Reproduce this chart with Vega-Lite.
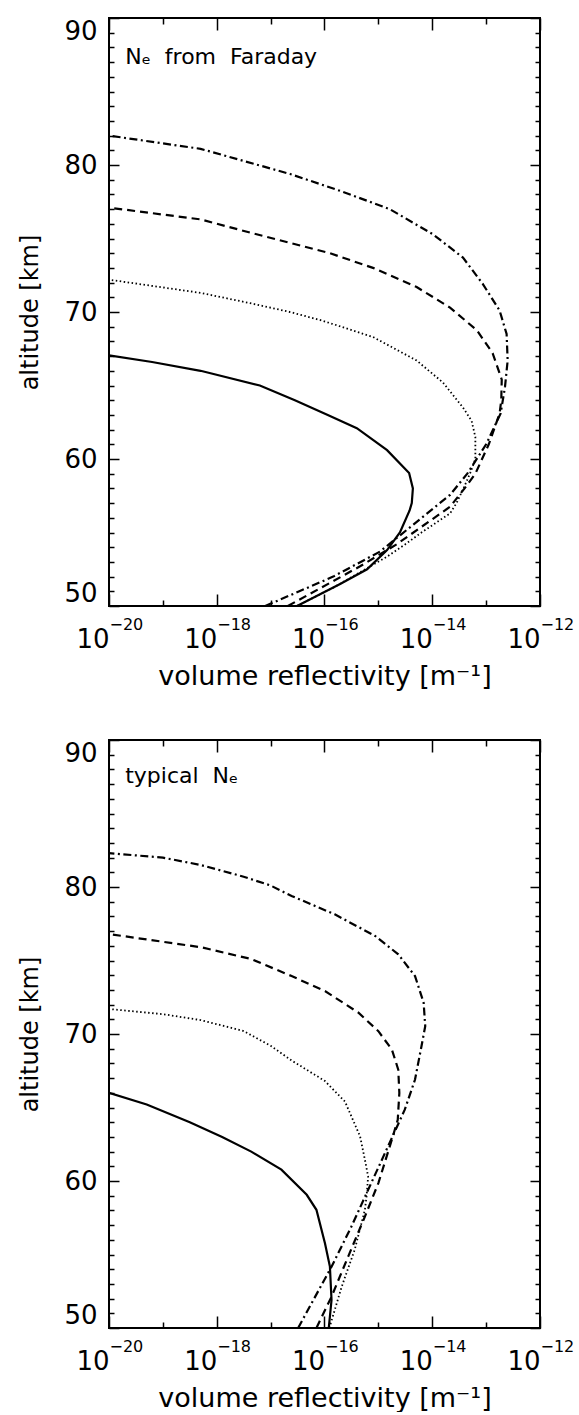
{
  "$schema": "https://vega.github.io/schema/vega-lite/v6.json",
  "padding": {"left": 17, "top": 16, "right": 5, "bottom": 0},
  "spacing": 48,
  "config": {
    "view": {"stroke": "black", "strokeWidth": 2},
    "font": "DejaVu Sans",
    "axis": {"grid": false, "domain": false, "labelColor": "black", "titleColor": "black", "tickColor": "black", "tickWidth": 1.5, "labelFont": "DejaVu Sans", "titleFont": "DejaVu Sans", "titleFontWeight": "normal", "labelFlush": false, "labelOverlap": false},
    "line": {"color": "black", "strokeCap": "butt"}
  },
  "datasets": {
    "faraday": [
      {"series": "solid", "alt": 67.05, "r": 1e-20},
      {"series": "solid", "alt": 66.6, "r": 6.31e-20},
      {"series": "solid", "alt": 66.0, "r": 5.01e-19},
      {"series": "solid", "alt": 65.0, "r": 6.31e-18},
      {"series": "solid", "alt": 64.0, "r": 2.82e-17},
      {"series": "solid", "alt": 63.0, "r": 1.15e-16},
      {"series": "solid", "alt": 62.1, "r": 3.98e-16},
      {"series": "solid", "alt": 61.3, "r": 7.94e-16},
      {"series": "solid", "alt": 60.6, "r": 1.45e-15},
      {"series": "solid", "alt": 59.05, "r": 3.72e-15},
      {"series": "solid", "alt": 58.0, "r": 4.37e-15},
      {"series": "solid", "alt": 57.0, "r": 4.17e-15},
      {"series": "solid", "alt": 56.5, "r": 3.8e-15},
      {"series": "solid", "alt": 55.0, "r": 2.51e-15},
      {"series": "solid", "alt": 53.8, "r": 1.45e-15},
      {"series": "solid", "alt": 52.5, "r": 6.17e-16},
      {"series": "solid", "alt": 51.5, "r": 1.95e-16},
      {"series": "solid", "alt": 50.0, "r": 3.09e-17},
      {"series": "dotted", "alt": 72.2, "r": 1e-20},
      {"series": "dotted", "alt": 71.3, "r": 5.01e-19},
      {"series": "dotted", "alt": 70.6, "r": 4.17e-18},
      {"series": "dotted", "alt": 70.0, "r": 2.29e-17},
      {"series": "dotted", "alt": 69.4, "r": 9.33e-17},
      {"series": "dotted", "alt": 68.3, "r": 7.94e-16},
      {"series": "dotted", "alt": 66.7, "r": 5.13e-15},
      {"series": "dotted", "alt": 65.2, "r": 1.585e-14},
      {"series": "dotted", "alt": 63.5, "r": 3.72e-14},
      {"series": "dotted", "alt": 62.6, "r": 5.37e-14},
      {"series": "dotted", "alt": 61.5, "r": 6.31e-14},
      {"series": "dotted", "alt": 60.0, "r": 6.31e-14},
      {"series": "dotted", "alt": 59.0, "r": 5.01e-14},
      {"series": "dotted", "alt": 58.0, "r": 3.8e-14},
      {"series": "dotted", "alt": 57.0, "r": 2.82e-14},
      {"series": "dotted", "alt": 56.3, "r": 2.14e-14},
      {"series": "dotted", "alt": 55.0, "r": 6.31e-15},
      {"series": "dotted", "alt": 54.2, "r": 3.16e-15},
      {"series": "dotted", "alt": 53.36, "r": 1.45e-15},
      {"series": "dotted", "alt": 51.25, "r": 1.45e-16},
      {"series": "dotted", "alt": 50.0, "r": 3.09e-17},
      {"series": "dashed", "alt": 77.1, "r": 1e-20},
      {"series": "dashed", "alt": 76.3, "r": 5.01e-19},
      {"series": "dashed", "alt": 75.4, "r": 4.17e-18},
      {"series": "dashed", "alt": 74.7, "r": 2.29e-17},
      {"series": "dashed", "alt": 74.0, "r": 1.26e-16},
      {"series": "dashed", "alt": 73.0, "r": 7.94e-16},
      {"series": "dashed", "alt": 71.7, "r": 5.13e-15},
      {"series": "dashed", "alt": 70.3, "r": 2.14e-14},
      {"series": "dashed", "alt": 68.75, "r": 6.76e-14},
      {"series": "dashed", "alt": 67.2, "r": 1.32e-13},
      {"series": "dashed", "alt": 65.4, "r": 1.95e-13},
      {"series": "dashed", "alt": 64.0, "r": 1.91e-13},
      {"series": "dashed", "alt": 63.1, "r": 1.78e-13},
      {"series": "dashed", "alt": 61.0, "r": 1.12e-13},
      {"series": "dashed", "alt": 59.0, "r": 6.31e-14},
      {"series": "dashed", "alt": 58.0, "r": 3.98e-14},
      {"series": "dashed", "alt": 56.75, "r": 2.14e-14},
      {"series": "dashed", "alt": 54.2, "r": 2.19e-15},
      {"series": "dashed", "alt": 52.7, "r": 4.57e-16},
      {"series": "dashed", "alt": 50.0, "r": 2.09e-17},
      {"series": "dash-dot", "alt": 82.0, "r": 1e-20},
      {"series": "dash-dot", "alt": 81.1, "r": 5.01e-19},
      {"series": "dash-dot", "alt": 79.39, "r": 2.29e-17},
      {"series": "dash-dot", "alt": 78.24, "r": 1.95e-16},
      {"series": "dash-dot", "alt": 77.0, "r": 1.62e-15},
      {"series": "dash-dot", "alt": 75.3, "r": 1.02e-14},
      {"series": "dash-dot", "alt": 73.7, "r": 3.72e-14},
      {"series": "dash-dot", "alt": 71.9, "r": 8.71e-14},
      {"series": "dash-dot", "alt": 70.1, "r": 1.78e-13},
      {"series": "dash-dot", "alt": 68.5, "r": 2.4e-13},
      {"series": "dash-dot", "alt": 66.7, "r": 2.51e-13},
      {"series": "dash-dot", "alt": 64.9, "r": 2.24e-13},
      {"series": "dash-dot", "alt": 63.1, "r": 1.86e-13},
      {"series": "dash-dot", "alt": 61.0, "r": 1.0e-13},
      {"series": "dash-dot", "alt": 59.0, "r": 4.47e-14},
      {"series": "dash-dot", "alt": 57.56, "r": 2.14e-14},
      {"series": "dash-dot", "alt": 53.7, "r": 1.07e-15},
      {"series": "dash-dot", "alt": 52.0, "r": 1.45e-16},
      {"series": "dash-dot", "alt": 50.0, "r": 7.94e-18}
    ],
    "typical": [
      {"series": "solid", "alt": 66.0, "r": 1e-20},
      {"series": "solid", "alt": 65.2, "r": 5.01e-20},
      {"series": "solid", "alt": 64.0, "r": 3.16e-19},
      {"series": "solid", "alt": 63.0, "r": 1.26e-18},
      {"series": "solid", "alt": 62.0, "r": 4.37e-18},
      {"series": "solid", "alt": 60.77, "r": 1.585e-17},
      {"series": "solid", "alt": 59.06, "r": 4.68e-17},
      {"series": "solid", "alt": 58.04, "r": 7.08e-17},
      {"series": "solid", "alt": 55.77, "r": 1.02e-16},
      {"series": "solid", "alt": 54.18, "r": 1.26e-16},
      {"series": "solid", "alt": 51.9, "r": 1.35e-16},
      {"series": "solid", "alt": 50.0, "r": 1.2e-16},
      {"series": "dotted", "alt": 71.7, "r": 1e-20},
      {"series": "dotted", "alt": 71.35, "r": 1e-19},
      {"series": "dotted", "alt": 70.95, "r": 5.01e-19},
      {"series": "dotted", "alt": 70.2, "r": 3.16e-18},
      {"series": "dotted", "alt": 69.2, "r": 1e-17},
      {"series": "dotted", "alt": 68.2, "r": 2.45e-17},
      {"series": "dotted", "alt": 66.8, "r": 1.02e-16},
      {"series": "dotted", "alt": 65.4, "r": 2.4e-16},
      {"series": "dotted", "alt": 63.04, "r": 4.57e-16},
      {"series": "dotted", "alt": 61.45, "r": 5.62e-16},
      {"series": "dotted", "alt": 60.31, "r": 6.46e-16},
      {"series": "dotted", "alt": 58.95, "r": 6.03e-16},
      {"series": "dotted", "alt": 58.04, "r": 5.62e-16},
      {"series": "dotted", "alt": 55.32, "r": 3.63e-16},
      {"series": "dotted", "alt": 52.82, "r": 2.09e-16},
      {"series": "dotted", "alt": 50.0, "r": 1.23e-16},
      {"series": "dashed", "alt": 76.8, "r": 1e-20},
      {"series": "dashed", "alt": 75.9, "r": 5.13e-19},
      {"series": "dashed", "alt": 75.1, "r": 4.37e-18},
      {"series": "dashed", "alt": 73.94, "r": 2.45e-17},
      {"series": "dashed", "alt": 72.92, "r": 1.02e-16},
      {"series": "dashed", "alt": 71.45, "r": 4.27e-16},
      {"series": "dashed", "alt": 70.19, "r": 1.0e-15},
      {"series": "dashed", "alt": 68.94, "r": 1.78e-15},
      {"series": "dashed", "alt": 67.58, "r": 2.34e-15},
      {"series": "dashed", "alt": 65.99, "r": 2.45e-15},
      {"series": "dashed", "alt": 64.17, "r": 2.29e-15},
      {"series": "dashed", "alt": 62.81, "r": 1.78e-15},
      {"series": "dashed", "alt": 59.86, "r": 1.0e-15},
      {"series": "dashed", "alt": 57.58, "r": 5.62e-16},
      {"series": "dashed", "alt": 54.86, "r": 2.75e-16},
      {"series": "dashed", "alt": 52.13, "r": 1.35e-16},
      {"series": "dashed", "alt": 50.0, "r": 7.08e-17},
      {"series": "dash-dot", "alt": 82.3, "r": 1e-20},
      {"series": "dash-dot", "alt": 82.0, "r": 1e-19},
      {"series": "dash-dot", "alt": 81.5, "r": 5.01e-19},
      {"series": "dash-dot", "alt": 80.7, "r": 3.16e-18},
      {"series": "dash-dot", "alt": 80.1, "r": 1e-17},
      {"series": "dash-dot", "alt": 79.39, "r": 2.45e-17},
      {"series": "dash-dot", "alt": 78.14, "r": 1.55e-16},
      {"series": "dash-dot", "alt": 76.67, "r": 8.71e-16},
      {"series": "dash-dot", "alt": 75.42, "r": 2.34e-15},
      {"series": "dash-dot", "alt": 73.94, "r": 4.79e-15},
      {"series": "dash-dot", "alt": 72.13, "r": 6.92e-15},
      {"series": "dash-dot", "alt": 70.53, "r": 7.41e-15},
      {"series": "dash-dot", "alt": 69.17, "r": 6.31e-15},
      {"series": "dash-dot", "alt": 66.9, "r": 4.79e-15},
      {"series": "dash-dot", "alt": 64.85, "r": 3.09e-15},
      {"series": "dash-dot", "alt": 62.93, "r": 1.78e-15},
      {"series": "dash-dot", "alt": 59.4, "r": 6.46e-16},
      {"series": "dash-dot", "alt": 56.9, "r": 3.16e-16},
      {"series": "dash-dot", "alt": 54.17, "r": 1.35e-16},
      {"series": "dash-dot", "alt": 51.68, "r": 5.75e-17},
      {"series": "dash-dot", "alt": 50.0, "r": 3.24e-17}
    ]
  },
  "vconcat": [
    {
      "width": 431,
      "height": 588,
      "data": {"name": "faraday"},
      "resolve": {"axis": {"x": "independent", "y": "independent"}},
      "layer": [
        {
          "transform": [{"filter": "datum.series === 'solid'"}],
          "mark": {"type": "line", "strokeWidth": 2.2, "clip": true},
          "encoding": {
            "x": {"field": "r", "type": "quantitative", "scale": {"type": "log", "domain": [1e-20, 1e-12], "nice": false},
              "axis": {"orient": "bottom", "values": [1e-20, 1e-18, 1e-16, 1e-14, 1e-12], "tickSize": -12, "labelPadding": 32, "labelFontSize": 26, "labelAlign": "right", "labelDx": -1,
                "labelExpr": "'10'", "title": "volume reflectivity [m⁻¹]", "titleFontSize": 27, "titlePadding": 11}},
            "y": {"field": "alt", "type": "quantitative", "scale": {"domain": [50, 90], "nice": false},
              "axis": {"orient": "left", "values": [50, 60, 70, 80, 90], "tickSize": -10, "labelPadding": 22, "labelFontSize": 26, "labelFlush": true,
                "title": "altitude [km]", "titleFontSize": 24, "titlePadding": 21}},
            "order": {"field": "alt", "type": "quantitative"}
          }
        },
        {
          "transform": [{"filter": "datum.series === 'dotted'"}],
          "mark": {"type": "line", "strokeWidth": 1.8, "strokeDash": [1.5, 2.5], "clip": true},
          "encoding": {
            "x": {"field": "r", "type": "quantitative", "axis": {"orient": "bottom", "values": [1e-19, 1e-17, 1e-15, 1e-13], "tickSize": -6, "labels": false, "title": null}},
            "y": {"field": "alt", "type": "quantitative", "axis": {"orient": "left", "values": [51,52,53,54,55,56,57,58,59,61,62,63,64,65,66,67,68,69,71,72,73,74,75,76,77,78,79,81,82,83,84,85,86,87,88,89], "tickSize": -5, "labels": false, "title": null}},
            "order": {"field": "alt", "type": "quantitative"}
          }
        },
        {
          "transform": [{"filter": "datum.series === 'dashed'"}],
          "mark": {"type": "line", "strokeWidth": 2.2, "strokeDash": [8, 5], "clip": true},
          "encoding": {
            "x": {"field": "r", "type": "quantitative", "axis": {"orient": "top", "values": [1e-20, 1e-18, 1e-16, 1e-14, 1e-12], "tickSize": -12, "labels": false, "title": null}},
            "y": {"field": "alt", "type": "quantitative", "axis": {"orient": "right", "values": [50, 60, 70, 80, 90], "tickSize": -10, "labels": false, "title": null}},
            "order": {"field": "alt", "type": "quantitative"}
          }
        },
        {
          "transform": [{"filter": "datum.series === 'dash-dot'"}],
          "mark": {"type": "line", "strokeWidth": 2.2, "strokeDash": [8, 3.5, 2, 3.5], "clip": true},
          "encoding": {
            "x": {"field": "r", "type": "quantitative", "axis": {"orient": "top", "values": [1e-19, 1e-17, 1e-15, 1e-13], "tickSize": -6, "labels": false, "title": null}},
            "y": {"field": "alt", "type": "quantitative", "axis": {"orient": "right", "values": [51,52,53,54,55,56,57,58,59,61,62,63,64,65,66,67,68,69,71,72,73,74,75,76,77,78,79,81,82,83,84,85,86,87,88,89], "tickSize": -5, "labels": false, "title": null}},
            "order": {"field": "alt", "type": "quantitative"}
          }
        },
        {
          "data": {"values": [{"label": "Nₑ\u00a0 from\u00a0 Faraday"}]},
          "mark": {"type": "text", "align": "left", "baseline": "alphabetic", "fontSize": 22, "font": "DejaVu Sans"},
          "encoding": {
            "x": {"datum": 2e-20, "type": "quantitative",
              "axis": {"orient": "bottom", "values": [1e-20, 1e-18, 1e-16, 1e-14, 1e-12], "ticks": false, "tickSize": 0, "labelPadding": 10, "labelFontSize": 16, "labelAlign": "left", "labelDx": 1,
                "labelExpr": "'−' + toString(-round(log(datum.value)/LN10))", "title": null}},
            "y": {"datum": 86.9, "type": "quantitative", "axis": null},
            "text": {"field": "label"}
          }
        }
      ]
    },
    {
      "width": 431,
      "height": 588,
      "data": {"name": "typical"},
      "resolve": {"axis": {"x": "independent", "y": "independent"}},
      "layer": [
        {
          "transform": [{"filter": "datum.series === 'solid'"}],
          "mark": {"type": "line", "strokeWidth": 2.2, "clip": true},
          "encoding": {
            "x": {"field": "r", "type": "quantitative", "scale": {"type": "log", "domain": [1e-20, 1e-12], "nice": false},
              "axis": {"orient": "bottom", "values": [1e-20, 1e-18, 1e-16, 1e-14, 1e-12], "tickSize": -12, "labelPadding": 32, "labelFontSize": 26, "labelAlign": "right", "labelDx": -1,
                "labelExpr": "'10'", "title": "volume reflectivity [m⁻¹]", "titleFontSize": 27, "titlePadding": 11}},
            "y": {"field": "alt", "type": "quantitative", "scale": {"domain": [50, 90], "nice": false},
              "axis": {"orient": "left", "values": [50, 60, 70, 80, 90], "tickSize": -10, "labelPadding": 22, "labelFontSize": 26, "labelFlush": true,
                "title": "altitude [km]", "titleFontSize": 24, "titlePadding": 21}},
            "order": {"field": "alt", "type": "quantitative"}
          }
        },
        {
          "transform": [{"filter": "datum.series === 'dotted'"}],
          "mark": {"type": "line", "strokeWidth": 1.8, "strokeDash": [1.5, 2.5], "clip": true},
          "encoding": {
            "x": {"field": "r", "type": "quantitative", "axis": {"orient": "bottom", "values": [1e-19, 1e-17, 1e-15, 1e-13], "tickSize": -6, "labels": false, "title": null}},
            "y": {"field": "alt", "type": "quantitative", "axis": {"orient": "left", "values": [51,52,53,54,55,56,57,58,59,61,62,63,64,65,66,67,68,69,71,72,73,74,75,76,77,78,79,81,82,83,84,85,86,87,88,89], "tickSize": -5, "labels": false, "title": null}},
            "order": {"field": "alt", "type": "quantitative"}
          }
        },
        {
          "transform": [{"filter": "datum.series === 'dashed'"}],
          "mark": {"type": "line", "strokeWidth": 2.2, "strokeDash": [8, 5], "clip": true},
          "encoding": {
            "x": {"field": "r", "type": "quantitative", "axis": {"orient": "top", "values": [1e-20, 1e-18, 1e-16, 1e-14, 1e-12], "tickSize": -12, "labels": false, "title": null}},
            "y": {"field": "alt", "type": "quantitative", "axis": {"orient": "right", "values": [50, 60, 70, 80, 90], "tickSize": -10, "labels": false, "title": null}},
            "order": {"field": "alt", "type": "quantitative"}
          }
        },
        {
          "transform": [{"filter": "datum.series === 'dash-dot'"}],
          "mark": {"type": "line", "strokeWidth": 2.2, "strokeDash": [8, 3.5, 2, 3.5], "clip": true},
          "encoding": {
            "x": {"field": "r", "type": "quantitative", "axis": {"orient": "top", "values": [1e-19, 1e-17, 1e-15, 1e-13], "tickSize": -6, "labels": false, "title": null}},
            "y": {"field": "alt", "type": "quantitative", "axis": {"orient": "right", "values": [51,52,53,54,55,56,57,58,59,61,62,63,64,65,66,67,68,69,71,72,73,74,75,76,77,78,79,81,82,83,84,85,86,87,88,89], "tickSize": -5, "labels": false, "title": null}},
            "order": {"field": "alt", "type": "quantitative"}
          }
        },
        {
          "data": {"values": [{"label": "typical\u00a0 Nₑ"}]},
          "mark": {"type": "text", "align": "left", "baseline": "alphabetic", "fontSize": 22, "font": "DejaVu Sans"},
          "encoding": {
            "x": {"datum": 2e-20, "type": "quantitative",
              "axis": {"orient": "bottom", "values": [1e-20, 1e-18, 1e-16, 1e-14, 1e-12], "ticks": false, "tickSize": 0, "labelPadding": 10, "labelFontSize": 16, "labelAlign": "left", "labelDx": 1,
                "labelExpr": "'−' + toString(-round(log(datum.value)/LN10))", "title": null}},
            "y": {"datum": 87.1, "type": "quantitative", "axis": null},
            "text": {"field": "label"}
          }
        }
      ]
    }
  ]
}
